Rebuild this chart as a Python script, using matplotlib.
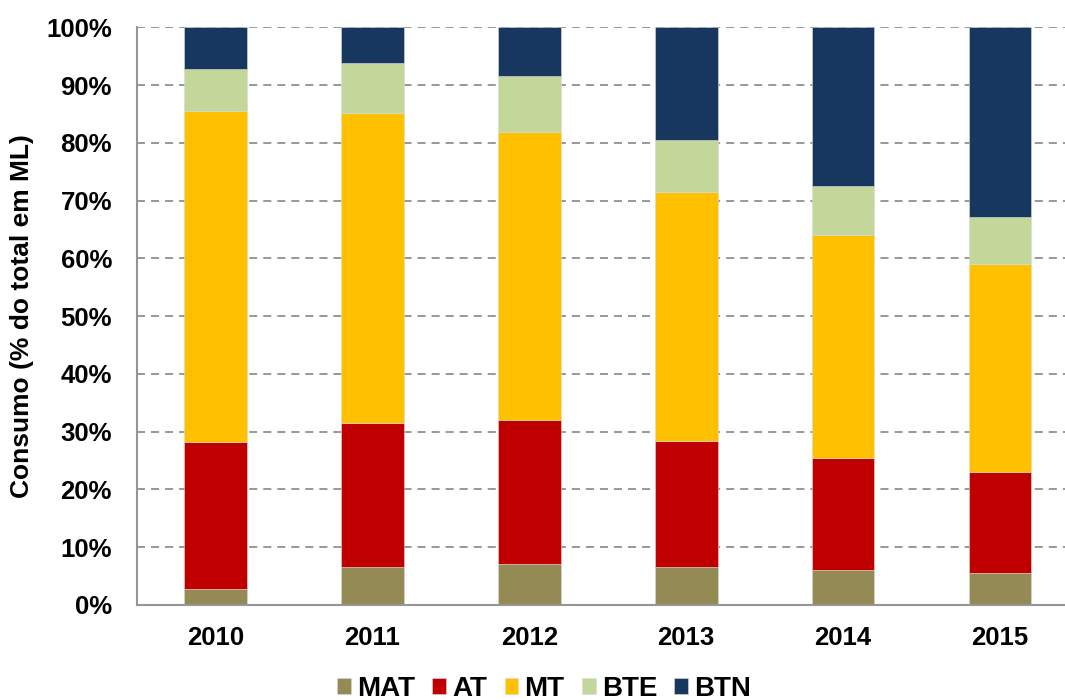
import numpy as np
import matplotlib.pyplot as plt
from matplotlib.ticker import PercentFormatter

plt.rcParams['font.family'] = ['Liberation Sans', 'DejaVu Sans']
plt.rcParams['font.weight'] = 'bold'
plt.rcParams['lines.scale_dashes'] = False

# dados (% do total em ML)
anos = ['2010', '2011', '2012', '2013', '2014', '2015']
mat = [2.8, 6.6, 7.1, 6.6, 6.1, 5.5]
at = [25.4, 24.9, 24.9, 21.8, 19.3, 17.5]
mt = [57.3, 53.6, 49.8, 43.1, 38.6, 36.0]
bte = [7.2, 8.8, 9.7, 8.9, 8.5, 8.1]
btn = [7.3, 6.1, 8.5, 19.6, 27.5, 32.9]

series = [('MAT', mat, '#948A54'), ('AT', at, '#C00000'), ('MT', mt, '#FFC000'),
          ('BTE', bte, '#C4D79B'), ('BTN', btn, '#17375E')]

fig = plt.figure(figsize=(10.65, 7), dpi=100)
ax = fig.add_axes([0.1286, 0.136, 0.8714, 0.825])

x = np.arange(len(anos))
base = np.zeros(len(anos))
for nome, vals, cor in series:
    ax.bar(x, vals, 0.40, bottom=base, color=cor, label=nome,
           edgecolor='#d9d9d9', linewidth=0.4, zorder=3)
    base = base + np.array(vals)

ax.set_ylim(0, 100)
ax.set_xlim(-0.5, 5.414)
ax.set_yticks(np.arange(0, 101, 10))
ax.yaxis.set_major_formatter(PercentFormatter(decimals=0))
ax.set_xticks(x)
ax.set_xticklabels(anos)
ax.tick_params(axis='y', length=0, labelsize=18.5, pad=18)
ax.tick_params(axis='x', length=0, labelsize=18.5, pad=15)
ax.grid(axis='y', color='#868686', linestyle=(0, (5.8, 4.3)), linewidth=1.2, zorder=0)
for s in ['top', 'right']:
    ax.spines[s].set_visible(False)
for s in ['bottom', 'left']:
    ax.spines[s].set_color('#969696')
    ax.spines[s].set_linewidth(1.5)
    ax.spines[s].set_zorder(4)
ax.set_ylabel('Consumo (% do total em ML)', fontsize=19, fontweight='bold', labelpad=9)

fig.legend(loc='upper center', bbox_to_anchor=(0.511, 0.05), borderaxespad=0,
           ncol=5, frameon=False, fontsize=20, handlelength=0.5, handleheight=0.5,
           handletextpad=0.22, columnspacing=0.62)

fig.savefig('out.png', dpi=100)
